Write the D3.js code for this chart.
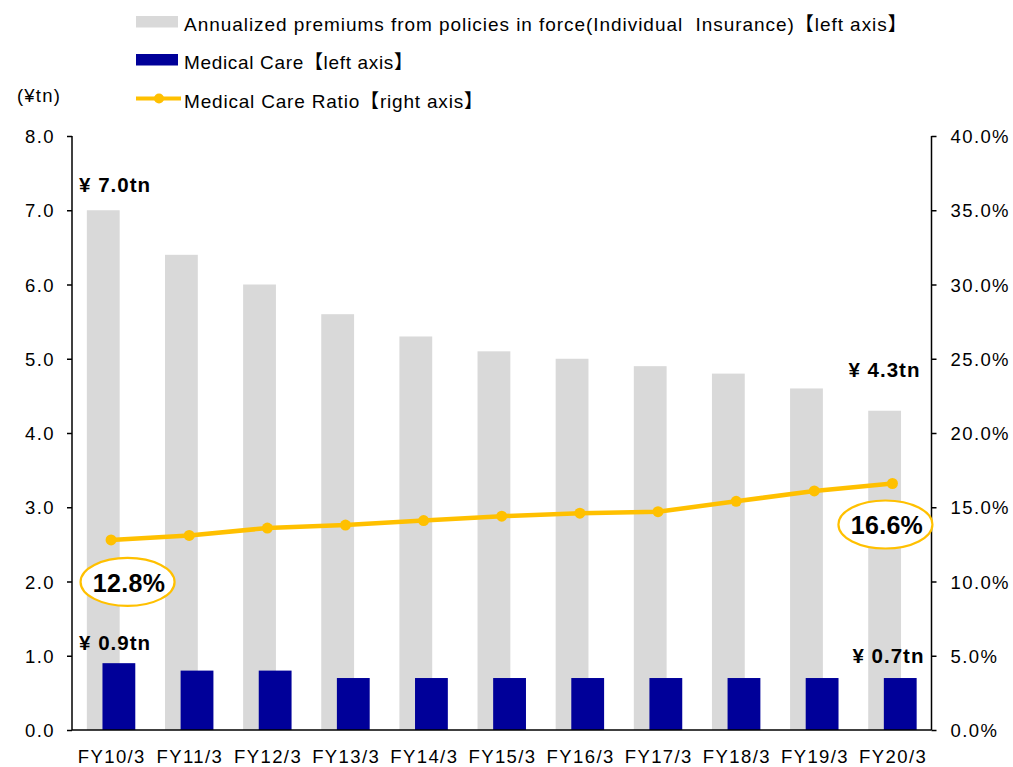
<!DOCTYPE html>
<html><head><meta charset="utf-8">
<script src="https://cdn.jsdelivr.net/npm/d3@7"></script>
<style>
body{margin:0;background:#fff;}
svg{display:block;font-family:"Liberation Sans",Arial,"Noto Sans CJK JP",sans-serif;}
</style></head>
<body><svg id="c" width="1013" height="767"></svg>
<script>
const categories = ["FY10/3","FY11/3","FY12/3","FY13/3","FY14/3","FY15/3","FY16/3","FY17/3","FY18/3","FY19/3","FY20/3"];
const premiums = [7.0,6.4,6.0,5.6,5.3,5.1,5.0,4.9,4.8,4.6,4.3];
const medical = [0.9,0.8,0.8,0.7,0.7,0.7,0.7,0.7,0.7,0.7,0.7];
const ratio = [12.8,13.1,13.6,13.8,14.1,14.4,14.6,14.7,15.4,16.1,16.6];
const leftTicks = [0,1,2,3,4,5,6,7,8];
const rightTicks = [0,5,10,15,20,25,30,35,40];
const legendLabels = ["Annualized premiums from policies in force(Individual  Insurance)【left axis】","Medical Care【left axis】","Medical Care Ratio【right axis】"];

const svg = d3.select("#c");
const L = 72, R = 931.5, T = 136, B = 730;
const GRAY = "#D9D9D9", BLUE = "#000099", GOLD = "#FFC000";

const x = d3.scaleBand().domain(categories).range([L, R]).paddingInner(0).paddingOuter(0);
const yL = d3.scaleLinear().domain([0, 8]).range([B, T]);
const yR = d3.scaleLinear().domain([0, 40]).range([B, T]);
const bw = x.bandwidth();
const cx = c => x(c) + bw / 2;
const barW = 0.42 * bw;

// gray bars
svg.append("g").selectAll("rect").data(categories).join("rect")
  .attr("x", (c) => cx(c) - 0.31 * bw).attr("width", barW)
  .attr("y", (c, i) => yL(premiums[i])).attr("height", (c, i) => yL(0) - yL(premiums[i]))
  .attr("fill", GRAY);
// blue bars
svg.append("g").selectAll("rect").data(categories).join("rect")
  .attr("x", (c) => cx(c) - 0.11 * bw).attr("width", barW)
  .attr("y", (c, i) => yL(medical[i])).attr("height", (c, i) => yL(0) - yL(medical[i]))
  .attr("fill", BLUE);

// axes
const axL = svg.append("g").attr("transform", `translate(${L},0)`)
  .call(d3.axisLeft(yL).tickValues(leftTicks).tickFormat(d3.format(".1f")).tickSize(5).tickPadding(12));
const axR = svg.append("g").attr("transform", `translate(${R},0)`)
  .call(d3.axisRight(yR).tickValues(rightTicks).tickFormat(d => d.toFixed(1) + "%").tickSize(5).tickPadding(14));
const axB = svg.append("g").attr("transform", `translate(0,${B})`)
  .call(d3.axisBottom(x).tickSize(0).tickPadding(20));
[axL, axR, axB].forEach(a => {
  a.select(".domain").attr("stroke", "#000").attr("stroke-width", 1.5);
  a.selectAll(".tick line").attr("stroke", "#000").attr("stroke-width", 1.5);
  a.selectAll("text").attr("fill", "#000").style("font-size", "18.5px")
    .style("font-family", '"Liberation Sans",Arial,sans-serif').style("letter-spacing", "1.4px");
});
axL.select(".domain").attr("d", `M0,${T}V${B}`);
axR.select(".domain").attr("d", `M0,${T}V${B}`);
axB.select(".domain").attr("d", `M${L},0H${R}`);
axL.selectAll("text").attr("dy", "0.36em").attr("x", -17);
axR.selectAll("text").attr("dy", "0.36em").attr("x", 19);
axB.selectAll("text").attr("dy", "0.71em").attr("y", 20).attr("dx", "0.7px");

// ratio line
const line = d3.line().x((d, i) => cx(categories[i])).y(d => yR(d));
svg.append("path").datum(ratio).attr("d", line).attr("fill", "none")
  .attr("stroke", GOLD).attr("stroke-width", 4.5);
svg.append("g").selectAll("circle").data(ratio).join("circle")
  .attr("cx", (d, i) => cx(categories[i])).attr("cy", d => yR(d)).attr("r", 5.5).attr("fill", GOLD);

// ellipse labels
const first = 0, last = categories.length - 1;
function ellLabel(i, dx, dy) {
  const ex = cx(categories[i]) + dx, ey = yR(ratio[i]) + dy;
  svg.append("ellipse").attr("cx", ex).attr("cy", ey).attr("rx", 47).attr("ry", 24)
    .attr("fill", "#fff").attr("stroke", GOLD).attr("stroke-width", 2.2);
  svg.append("text").attr("x", ex + 1.5).attr("y", ey + 10).attr("text-anchor", "middle")
    .style("font-size", "25px").style("font-weight", "bold").style("letter-spacing", "0.3px")
    .text(ratio[i].toFixed(1) + "%");
}
ellLabel(first, 16.5, 42);
ellLabel(last, -7, 41);

// value labels
function valLabel(v, xpos, ypos, anchor) {
  svg.append("text").attr("x", xpos).attr("y", ypos).attr("text-anchor", anchor)
    .style("font-size", "20.5px").style("font-weight", "bold").style("letter-spacing", "1px")
    .text("¥ " + v.toFixed(1) + "tn");
}
valLabel(premiums[first], cx(categories[first]) - 32, yL(premiums[first]) - 18, "start");
valLabel(medical[first], cx(categories[first]) - 32, yL(medical[first]) - 13, "start");
valLabel(premiums[last], cx(categories[last]) + 28, yL(premiums[last]) - 34, "end");
valLabel(medical[last], cx(categories[last]) + 32, yL(medical[last]) - 15, "end");

// unit label
svg.append("text").attr("x", 17).attr("y", 102).style("font-size", "18.5px").style("letter-spacing", "1.2px").text("(¥tn)");

// legend
const lg = svg.append("g");
const legendWidths = [722.7, 229, 299];
const rowY = [22, 60, 98.5];
lg.append("rect").attr("x", 136).attr("y", rowY[0] - 6).attr("width", 42).attr("height", 11.5).attr("fill", GRAY);
lg.append("rect").attr("x", 136).attr("y", rowY[1] - 6).attr("width", 42).attr("height", 11.5).attr("fill", BLUE);
lg.append("line").attr("x1", 136).attr("x2", 181).attr("y1", rowY[2]).attr("y2", rowY[2]).attr("stroke", GOLD).attr("stroke-width", 4);
lg.append("circle").attr("cx", 159).attr("cy", rowY[2]).attr("r", 5).attr("fill", GOLD);
legendLabels.forEach((t, i) => {
  lg.append("text").attr("x", 184).attr("y", rowY[i] + 9).style("font-size", "19px")
    .attr("textLength", legendWidths[i]).attr("lengthAdjust", "spacing")
    .style("white-space", "pre").text(t);
});
</script></body></html>
